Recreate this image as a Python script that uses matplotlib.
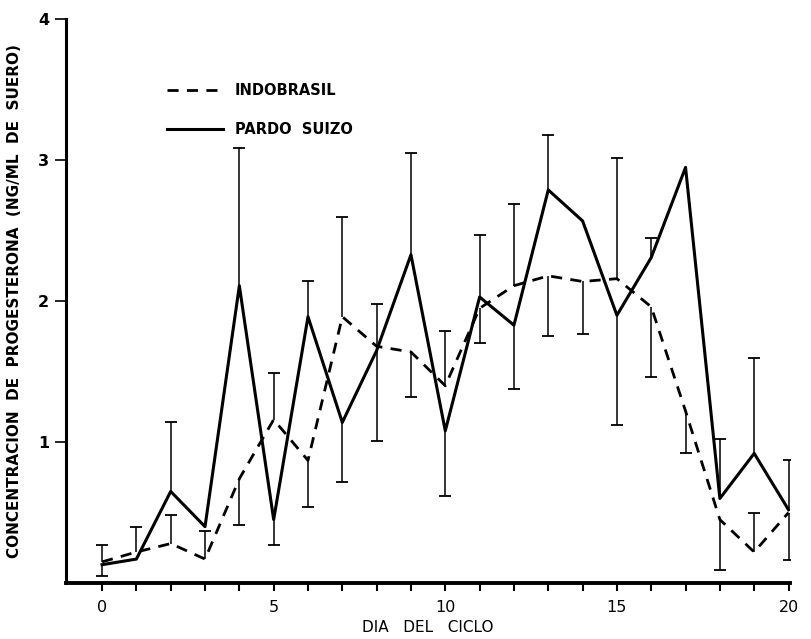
import matplotlib.pyplot as plt
import numpy as np

# dias del ciclo
dias = np.arange(0, 21)

# medias (ng/ml)
indobrasil = [0.15, 0.22, 0.28, 0.17, 0.74, 1.16, 0.87, 1.89, 1.68, 1.64, 1.40,
              1.95, 2.11, 2.18, 2.14, 2.16, 1.96, 1.22, 0.45, 0.22, 0.50]
pardo_suizo = [0.13, 0.17, 0.65, 0.40, 2.11, 0.45, 1.89, 1.14, 1.65, 2.33, 1.08,
               2.03, 1.83, 2.79, 2.57, 1.90, 2.31, 2.95, 0.60, 0.92, 0.52]

nan = np.nan
# extremos de las barras de error (nan = sin barra hacia ese lado)
indo_sup = [0.27, 0.40, 0.48, 0.37, nan, 1.49, nan, 2.60, 1.98, nan, 1.79,
            nan, 2.69, nan, nan, 3.02, nan, nan, nan, 0.50, nan]
indo_inf = [nan, nan, nan, nan, 0.41, nan, 0.54, nan, nan, 1.32, nan,
            1.70, nan, 1.75, 1.77, nan, 1.46, 0.92, 0.09, nan, 0.16]
pardo_sup = [nan, nan, 1.14, nan, 3.09, nan, 2.14, nan, nan, 3.05, nan,
             2.47, nan, 3.18, nan, nan, 2.45, nan, 1.02, 1.60, 0.87]
pardo_inf = [0.05, nan, nan, nan, nan, 0.27, nan, 0.72, 1.01, nan, 0.62,
             nan, 1.38, nan, nan, 1.12, nan, nan, nan, nan, nan]

fig = plt.figure(figsize=(8.11, 6.39), dpi=100)
ax = fig.add_axes([0.0814, 0.0876, 0.893, 0.882])


def barras(media, extremo):
    media = np.array(media)
    extremo = np.array(extremo)
    ok = ~np.isnan(extremo)
    ax.vlines(dias[ok], media[ok], extremo[ok], color='black', lw=1.1)
    ax.plot(dias[ok], extremo[ok], ls='none', marker='_', ms=9, mew=1.3, color='black')


for m, e in [(indobrasil, indo_sup), (indobrasil, indo_inf),
             (pardo_suizo, pardo_sup), (pardo_suizo, pardo_inf)]:
    barras(m, e)

ax.plot(dias, indobrasil, color='black', lw=2.0, ls=(0, (4, 3)), label='INDOBRASIL')
ax.plot(dias, pardo_suizo, color='black', lw=2.2, label='PARDO  SUIZO')

ax.set_xlim(-1.05, 20.05)
ax.set_ylim(0, 4)
ax.spines['top'].set_visible(False)
ax.spines['right'].set_visible(False)
ax.spines['left'].set_linewidth(2.2)
ax.spines['bottom'].set_linewidth(2.8)

ax.set_xticks(np.arange(0, 21, 1), minor=True)
ax.set_xticks([0, 5, 10, 15, 20])
ax.set_yticks([1, 2, 3, 4])
ax.tick_params(axis='x', which='both', length=6, width=1.5, labelsize=11.5, pad=6)
ax.tick_params(axis='y', length=8, width=1.2, labelsize=11.5, pad=4)
for t in ax.get_yticklabels():
    t.set_fontweight('bold')

ax.set_xlabel('DIA   DEL   CICLO', fontsize=11, labelpad=4)
ax.set_ylabel('CONCENTRACION  DE  PROGESTERONA  (NG/ML  DE  SUERO)',
              fontsize=11, fontweight='bold', labelpad=12)

ax.legend(loc='upper left', bbox_to_anchor=(0.122, 0.91), frameon=False,
          handlelength=3.8, handletextpad=0.8, labelspacing=1.65,
          prop={'size': 10.5, 'weight': 'bold'})

fig.savefig('out.png', dpi=100)
